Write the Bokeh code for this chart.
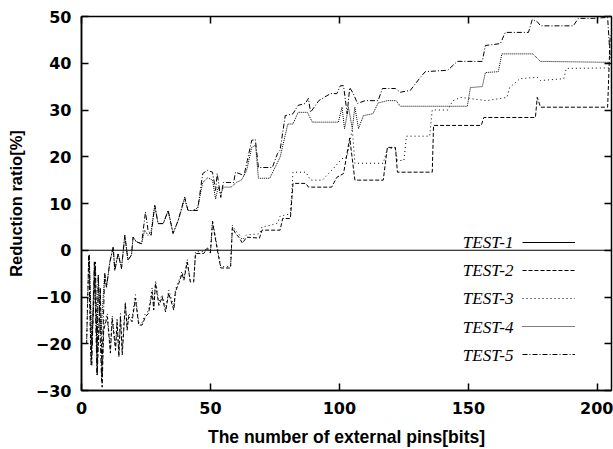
from bokeh.plotting import figure
from bokeh.models import Range1d, LinearAxis, Label, Legend, LegendItem, FixedTicker
from bokeh.embed import file_html
from bokeh.resources import INLINE

X_TICKS = [0, 50, 100, 150, 200]
Y_TICKS = [-30, -20, -10, 0, 10, 20, 30, 40, 50]
SERIES = ["TEST-1", "TEST-2", "TEST-3", "TEST-4", "TEST-5"]
X_TITLE = "The number of external pins[bits]"
Y_TITLE = "Reduction ratio[%]"

T1_X = [0, 205.5]
T1_Y = [0, 0]

T2_X = [2, 2.8, 3.7, 5.4, 6.1, 7.3, 8, 8.6, 10, 11.2, 11.9, 13.2, 13.8, 14.5, 15.1, 15.8, 17, 17.7, 18.3, 19.6,
        20.9, 22.2, 23.5, 24.8, 26, 27.4, 28, 28.7, 30, 31.3, 32.6, 33.8, 35.8, 36.4, 37.7, 39, 39.7, 41, 42.2, 43.5,
        44.2, 47.4, 48.7, 50, 50.8, 52.7, 54, 57.8, 58.5, 59.7, 61, 62.4, 64, 69, 70, 77, 78, 81, 82, 87,
        88, 97, 99, 101.6, 104, 106, 117, 118.6, 121.7, 122.5, 136, 136.5, 155, 156, 176, 176.7, 178, 204, 205]
T2_Y = [-20, -1, -24.5, -2.5, -26.7, -8, -29.3, -17, -14.2, -22, -14.6, -21.4, -15.3, -22.8, -14.2, -22.4, -11.4, -17.1, -14.2, -15.3,
        -10.3, -16, -16, -14.2, -13.5, -8.9, -12.8, -7.1, -11.8, -10, -13.2, -9.2, -12.8, -8.9, -7.1, -5, -6.4, -2.5, -6.8, -6.8,
        -0.7, -0.7, 0.4, -0.6, 6, 0, -3.8, -3.8, 4.9, 3.6, 2.8, 1.5, 2.8, 2.6, 4.3, 4.3, 6.8, 6.8, 14.3, 14.3,
        13.5, 13.5, 15.6, 16.4, 24, 15, 15, 22, 22, 16.7, 16.7, 26.7, 26.7, 28.4, 28.4, 32.7, 30.6, 30.6, 46]

T3_X = [2, 2.8, 3.7, 5.4, 6.1, 7.3, 8, 8.6, 10, 11.2, 11.9, 13.2, 13.8, 14.5, 15.1, 15.8, 17, 17.7, 18.3, 19.6,
        20.9, 22.2, 23.5, 24.8, 26, 27.4, 28, 28.7, 30, 31.3, 32.6, 33.8, 35.8, 36.4, 37.7, 39, 39.7, 41, 42.2, 43.5,
        44.2, 47.4, 48.7, 50, 50.8, 52.7, 54, 57.8, 58.5, 59.7, 61, 62.4, 64, 69, 70, 73, 76, 77, 81, 82,
        87, 88.8, 93.4, 97.7, 101, 103, 105, 106, 117, 118.6, 121.7, 122.5, 125, 126, 135, 136, 142, 144, 147, 157,
        165, 166, 170, 176.7, 178, 187, 188, 205]
T3_Y = [-19, -2, -23, -4, -25, -9, -27, -16, -13.5, -21, -14, -20.5, -14.5, -22, -13.5, -21, -11, -16.5, -13.5, -14.5,
        -9.5, -15.5, -15.5, -13.5, -13, -8, -12, -6.5, -11, -9.5, -12.5, -8.5, -12, -8.5, -6.5, -4.5, -6, -2, -6.5, -6.5,
        -0.3, -0.3, 0.6, 0, 6.5, 0.5, -3.5, -3.5, 5.3, 4.2, 3.5, 2.2, 3.3, 3.5, 5, 5.3, 5.8, 7.3, 7.8, 16.7,
        16.7, 15, 15, 17.5, 19.6, 20, 26, 18.6, 18.6, 21.8, 21.8, 19.2, 19.2, 24.4, 24.4, 30, 30, 32, 32.7, 32,
        32.7, 34.8, 36.7, 37, 36.3, 36.7, 38.9, 39]

T4_X = [3, 4, 5, 6, 6.5, 7.5, 9, 9.7, 11, 12.3, 12.9, 14.2, 15.5, 16.8, 18, 19.4, 20, 21.3, 23.3, 24.5,
        25.8, 27, 28.4, 29.7, 31.7, 33.6, 35.5, 37.5, 40, 41.3, 43, 45, 47, 49, 50.8, 52, 53, 54, 55, 58,
        60, 62, 64, 66, 67.5, 68.6, 73, 77, 80, 82, 84, 87.6, 89.5, 99.6, 101, 102, 103.5, 105, 106, 107.4,
        109.3, 113, 115, 118.6, 122, 123.6, 149.6, 150.8, 155.4, 156.6, 161.6, 163, 175, 177.9, 204, 205]
T4_Y = [-1, -20, -2.5, -22, -5.3, -18, -5, -7.9, -2.5, 0.7, -4.3, -0.7, -3.9, 3.2, -2.1, -1, 2.8, 1.8, 1.4, 4.3,
        3.2, 4, 9.6, 5.7, 5.7, 8.5, 3.6, 6.4, 11, 8.5, 8.5, 9, 14.5, 15.5, 15, 11, 13.5, 12, 13.5, 13.5,
        14.5, 15, 17, 22, 22.5, 15.4, 15.4, 19.9, 27, 27, 29.5, 29.5, 27.4, 27.4, 30.6, 26, 30.6, 26, 30.6, 26,
        28.8, 29.2, 31.5, 32, 32, 30.8, 30.8, 34.8, 35, 38, 38.2, 42, 42, 40.4, 40.2, 40.2]

T5_X = [3, 4, 5, 6, 6.5, 7.8, 9, 9.7, 11, 12.3, 12.9, 14.2, 15.5, 16.8, 18, 19.4, 20, 21.3, 23.3, 24.8,
        25.8, 27, 28.4, 29.7, 31.7, 33.6, 35.5, 37.5, 40, 41.3, 43, 45, 47, 48.8, 50.8, 52, 52.6, 54, 55, 59,
        59.7, 63, 64.3, 66, 67.4, 68.6, 74, 76, 77, 79, 82, 84, 86.8, 88, 88.8, 92, 96.5, 99, 100.4, 101.6,
        103, 104, 105.4, 107, 110, 115, 116.7, 121.7, 123.6, 127.5, 131.4, 133.3, 142, 145.7, 155.4, 156.6, 162.4, 164.3, 173.3, 174.8,
        176.7, 178, 190.7, 192.6, 198.4, 204, 205]
T5_Y = [-1, -24.6, -2.5, -26.7, -5.3, -28, -5, -7.9, -2.5, 0.7, -4.3, -0.7, -3.9, 3.2, -2.1, -1, 2.8, 1.8, 1.4, 8.2,
        4.3, 3.2, 9.6, 5.7, 5.7, 8.5, 3.6, 6.4, 11.4, 8.5, 8.5, 8.5, 16.4, 17.1, 16.7, 12.8, 16.4, 11.3, 14.5, 14.5,
        16.7, 16, 19.2, 23.5, 23.7, 17.7, 17.7, 20.7, 21.4, 28.8, 29.2, 31, 31.4, 32.5, 29.5, 32, 33.5, 33.5, 35.2, 35.2,
        29.2, 34.8, 33.5, 31.4, 32, 32, 34.6, 34.6, 33.8, 34.2, 37, 38.2, 38.5, 40.4, 40.4, 43.8, 44.2, 46.6, 46.6, 49.4,
        48.9, 48, 48, 49.6, 49.6, 49.8, 41]

DASHES = ["solid", "4 2", "1 3", "1 1", "5 2 1 2"]

p = figure(width=613, height=449, output_backend="svg", toolbar_location=None,
           x_range=Range1d(0, 205.5), y_range=Range1d(-30, 50),
           min_border_left=81, min_border_right=2, min_border_top=16, min_border_bottom=59)
p.grid.visible = False
p.background_fill_color = "white"
p.border_fill_color = "white"
p.outline_line_color = "black"
p.outline_line_width = 1.5

for ax, ticks in ((p.xaxis[0], X_TICKS), (p.yaxis[0], Y_TICKS)):
    ax.ticker = FixedTicker(ticks=ticks)
    ax.major_tick_in = 7
    ax.major_tick_out = 0
    ax.minor_tick_line_color = None
    ax.axis_line_width = 1.5
    ax.major_tick_line_width = 1.5
    ax.major_label_text_font = "DejaVu Sans"
    ax.major_label_text_font_style = "bold"
    ax.major_label_text_font_size = "16px"
    ax.major_label_text_color = "black"
    ax.axis_label_text_font = "Liberation Sans"
    ax.axis_label_text_font_style = "bold"
    ax.axis_label_text_color = "black"

p.xaxis.major_label_standoff = 11
p.yaxis.major_label_standoff = 10
p.xaxis.axis_label = X_TITLE
p.xaxis.axis_label_text_font_size = "17.5px"
p.xaxis.axis_label_standoff = 10
p.yaxis.axis_label = Y_TITLE
p.yaxis.axis_label_text_font_size = "16.5px"
p.yaxis.axis_label_standoff = 8

for loc, ticks in (("above", X_TICKS), ("right", Y_TICKS)):
    ax = LinearAxis(ticker=FixedTicker(ticks=ticks))
    ax.major_tick_in = 7
    ax.major_tick_out = 0
    ax.major_tick_line_width = 1.5
    ax.minor_tick_line_color = None
    ax.axis_line_color = None
    ax.major_label_text_color = None
    ax.major_label_text_font_size = "1px"
    ax.major_label_standoff = 0
    p.add_layout(ax, loc)

data = [(T1_X, T1_Y), (T2_X, T2_Y), (T3_X, T3_Y), (T4_X, T4_Y), (T5_X, T5_Y)]
renderers = []
for (xs, ys), dash in zip(data, DASHES):
    r = p.line(xs, ys, line_color="black", line_width=1, line_dash=dash)
    renderers.append(r)

legend = Legend(items=[LegendItem(label=" ", renderers=[r]) for r in renderers],
                location=(441, 22), glyph_width=53, glyph_height=28, spacing=0,
                padding=0, margin=0, label_standoff=0, label_width=0, label_height=0,
                label_text_color=None, label_text_font_size="10px",
                border_line_color=None, background_fill_alpha=0)
p.add_layout(legend, "center")

for i, name in enumerate(SERIES):
    p.add_layout(Label(x=432, y=148 - i * 28.2, x_units="screen", y_units="screen", text=name,
                       text_font="Liberation Serif", text_font_style="italic", text_font_size="17px",
                       text_align="right", text_baseline="middle", text_color="black"))

open("out.html", "w").write(file_html(p, INLINE))
